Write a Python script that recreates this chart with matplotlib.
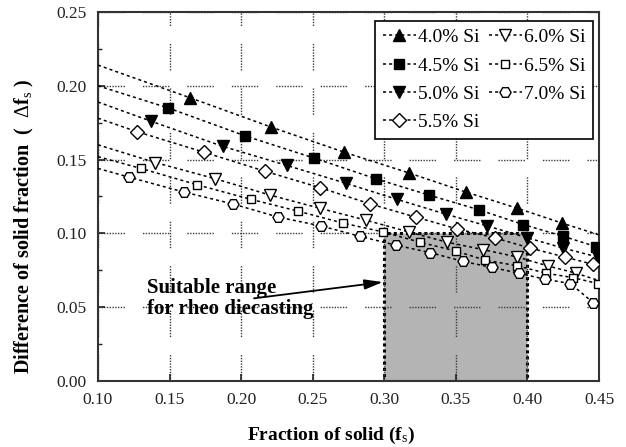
import matplotlib
matplotlib.use('Agg')
import matplotlib.pyplot as plt
from matplotlib.patches import Rectangle
from matplotlib.ticker import MultipleLocator

plt.rcParams['font.family'] = ['Liberation Serif', 'DejaVu Serif']
plt.rcParams['mathtext.fontset'] = 'custom'
plt.rcParams['mathtext.rm'] = 'Liberation Serif'
plt.rcParams['mathtext.it'] = 'Liberation Serif:italic'
plt.rcParams['mathtext.bf'] = 'Liberation Serif:bold'

# series: markers, plus where each dotted curve meets x=0.10 and x=0.45
labels = ['4.0% Si', '4.5% Si', '5.0% Si', '5.5% Si', '6.0% Si', '6.5% Si', '7.0% Si']

si40_x = [0.164, 0.221, 0.272, 0.317, 0.357, 0.393, 0.424]
si40_y = [0.192, 0.172, 0.155, 0.141, 0.128, 0.117, 0.107]
si45_x = [0.149, 0.203, 0.251, 0.294, 0.331, 0.366, 0.397, 0.425, 0.448]
si45_y = [0.185, 0.166, 0.151, 0.137, 0.126, 0.116, 0.106, 0.098, 0.091]
si50_x = [0.137, 0.187, 0.232, 0.273, 0.309, 0.343, 0.372, 0.400, 0.425, 0.449]
si50_y = [0.176, 0.159, 0.146, 0.134, 0.123, 0.113, 0.105, 0.097, 0.090, 0.084]
si55_x = [0.127, 0.174, 0.217, 0.255, 0.290, 0.322, 0.351, 0.377, 0.402, 0.426, 0.446]
si55_y = [0.169, 0.155, 0.142, 0.131, 0.120, 0.111, 0.103, 0.097, 0.090, 0.084, 0.079]
si60_x = [0.140, 0.182, 0.220, 0.255, 0.287, 0.317, 0.344, 0.369, 0.393, 0.414, 0.434]
si60_y = [0.148, 0.137, 0.126, 0.117, 0.109, 0.101, 0.094, 0.089, 0.084, 0.078, 0.073]
si65_x = [0.130, 0.169, 0.207, 0.240, 0.271, 0.299, 0.325, 0.350, 0.370, 0.393, 0.413, 0.432, 0.449]
si65_y = [0.144, 0.133, 0.123, 0.115, 0.107, 0.101, 0.094, 0.088, 0.082, 0.078, 0.073, 0.070, 0.066]
si70_x = [0.122, 0.160, 0.194, 0.226, 0.256, 0.283, 0.308, 0.332, 0.355, 0.375, 0.394, 0.412, 0.430, 0.446]
si70_y = [0.138, 0.128, 0.120, 0.111, 0.105, 0.098, 0.092, 0.087, 0.081, 0.077, 0.073, 0.069, 0.066, 0.053]

curve_start = [0.214, 0.200, 0.189, 0.178, 0.160, 0.152, 0.144]   # at fs = 0.10
curve_end = [0.099, 0.090, 0.083, 0.078, 0.068, 0.065, 0.050]     # at fs = 0.45

xs = [si40_x, si45_x, si50_x, si55_x, si60_x, si65_x, si70_x]
ys = [si40_y, si45_y, si50_y, si55_y, si60_y, si65_y, si70_y]

markers = ['^', 's', 'v', 'D', 'v', 's', 'H']
filled = [True, True, True, False, False, False, False]
msizes = [8.5, 6.5, 8.5, 7, 8.5, 6, 8]

fig = plt.figure(figsize=(6.26, 4.47), dpi=100)
ax = fig.add_axes([0.1565, 0.1477, 0.8005, 0.8255])

# suitable range box
ax.add_patch(Rectangle((0.30, 0.0), 0.10, 0.10, facecolor='#b4b4b4', edgecolor='black',
                       lw=2.2, linestyle=(0, (1, 1)), zorder=1))

for i in range(len(labels)):
    lx = [0.10] + xs[i] + [0.45]
    ly = [curve_start[i]] + ys[i] + [curve_end[i]]
    ax.plot(lx, ly, color='black', lw=1.1, linestyle=(0, (2, 2)),
            marker=markers[i], markevery=slice(1, len(lx) - 1), markersize=msizes[i],
            markerfacecolor='black' if filled[i] else 'white', markeredgecolor='black',
            markeredgewidth=1.0, label=labels[i], zorder=3)

ax.set_xlim(0.10, 0.45)
ax.set_ylim(0.0, 0.25)
ax.xaxis.set_major_locator(MultipleLocator(0.05))
ax.yaxis.set_major_locator(MultipleLocator(0.05))
ax.yaxis.set_minor_locator(MultipleLocator(0.025))
ax.xaxis.set_major_formatter(plt.FormatStrFormatter('%.2f'))
ax.yaxis.set_major_formatter(plt.FormatStrFormatter('%.2f'))
ax.tick_params(which='both', direction='in', labelsize=12.5, colors='#222222')
ax.tick_params(which='major', length=5, width=1.2, pad=8)
ax.tick_params(which='minor', length=3, width=1.0)
for s in ax.spines.values():
    s.set_linewidth(1.5)
    s.set_color('#333333')

# broken dotted grid
grid_dash = (0, (1, 1) * 9 + (1, 13))
ax.set_axisbelow('line')
ax.grid(True, which='major', color='#3a3a3a', linewidth=1.0, linestyle=grid_dash)

ax.set_xlabel('Fraction of solid (f$_\\mathrm{s}$)', fontsize=14, fontweight='bold')
ax.xaxis.set_label_coords(0.465, -0.118)
ax.set_ylabel('Difference of solid fraction  (  $\\Delta$f$_\\mathrm{s}$ )', fontsize=14.5,
              fontweight='bold')
ax.yaxis.set_label_coords(-0.124, 0.42)

ax.annotate('', xy=(0.299, 0.067), xytext=(0.209, 0.056),
            arrowprops=dict(arrowstyle='-|>,head_length=1.1,head_width=0.3', color='black',
                            lw=1.3, shrinkA=0, shrinkB=0))
ax.text(0.134, 0.0695, 'Suitable range\nfor rheo diecasting', fontsize=15, fontweight='bold',
        ha='left', va='top', linespacing=1.05)

leg = ax.legend(ncol=2, loc='upper right', bbox_to_anchor=(0.988, 0.976), borderaxespad=0,
                fontsize=14, handlelength=1.7, handletextpad=0.1, columnspacing=0.5,
                labelspacing=0.55, borderpad=0.4, fancybox=False, edgecolor='black',
                framealpha=1, numpoints=1)
leg.get_frame().set_linewidth(1.2)

plt.savefig('out.png', dpi=100)
